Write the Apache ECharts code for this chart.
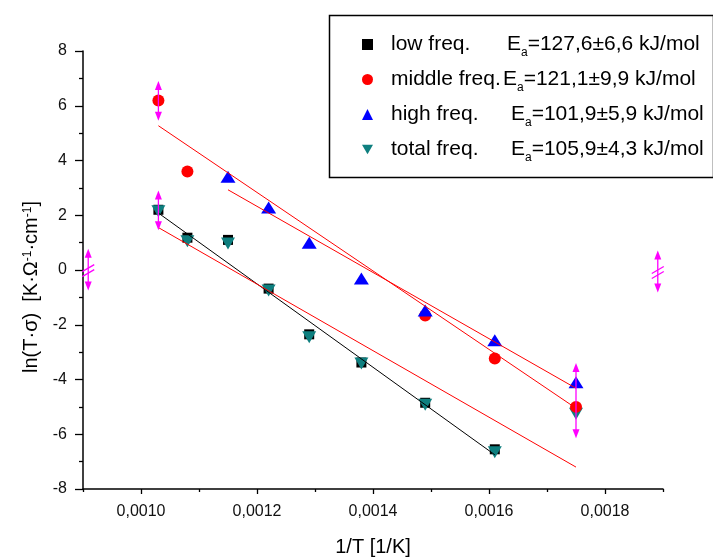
<!DOCTYPE html>
<html>
<head>
    <meta charset="utf-8">
    <title>ln(T·σ) vs 1/T</title>
    <script src="https://cdn.jsdelivr.net/npm/echarts@6/dist/echarts.min.js"></script>
    <style>
        body { margin: 0; background: #fff; }
    </style>
</head>
<body>
    <div id="chart" style="width:713px; height:558px"></div>

    <script>
        // 1/T values of the measurements
        const invT = [0.00103, 0.00108, 0.00115, 0.00122, 0.00129, 0.00138, 0.00149, 0.00161, 0.00175];
        const lowFreq    = [2.2, 1.18, 1.1, -0.68, -2.35, -3.38, -4.85, -6.55, null];
        const middleFreq = [6.19, 3.6, null, null, null, null, -1.66, -3.23, -5.0];
        const highFreq   = [null, null, 3.41, 2.28, 1.0, -0.31, -1.48, -2.57, -4.1];
        const totalFreq  = [2.15, 1.05, 0.97, -0.75, -2.46, -3.42, -4.92, -6.66, -5.25];

        // fitted lines (end points)
        const fitLow    = [[0.00103, 2.08], [0.00161, -6.75]];
        const fitMiddle = [[0.00103, 5.27], [0.00175, -5.05]];
        const fitHigh   = [[0.00115, 2.93], [0.00175, -4.32]];
        const fitTotal  = [[0.00103, 1.55], [0.00175, -7.2]];

        // magenta markers: x, y low, y high, break mark
        const markers = [
            [0.00103, 5.45, 6.9, 0],
            [0.00103, 1.45, 2.9, 0],
            [0.00175, -6.15, -3.4, 0],
            [0.000909, -0.75, 0.78, 1],
            [0.001891, -0.82, 0.71, 1]
        ];

        const seriesNames = ['low freq.', 'middle freq.', 'high freq.', 'total freq.'];
        const activation = ['127,6±6,6', '121,1±9,9', '101,9±5,9', '105,9±4,3'];

        const xMajor = [0.0010, 0.0012, 0.0014, 0.0016, 0.0018];
        const xMinor = [0.0009, 0.0011, 0.0013, 0.0015, 0.0017, 0.0019];

        const font = '"Liberation Sans", Arial, sans-serif';
        const downTriangle = 'path://M0,0L14,0L7,12Z';
        let chart = echarts.init(document.getElementById('chart'));

        function pairs(ys) {
            return invT.map((x, i) => [x, ys[i]]).filter(p => p[1] !== null);
        }

        function fitSeries(data, color) {
            return {
                type: 'line', data: data, symbol: 'none', z: 6, silent: true,
                lineStyle: { color: color, width: 1 }
            };
        }

        function markerItem(params, api) {
            let top = api.coord([api.value(0), api.value(2)]);
            let bot = api.coord([api.value(0), api.value(1)]);
            let x = top[0];
            let st = { stroke: '#ff00ff', lineWidth: 1.3 };
            let kids = [
                { type: 'line', shape: { x1: x, y1: top[1] + 4, x2: x, y2: bot[1] - 4 }, style: st },
                { type: 'polygon', shape: { points: [[x, top[1]], [x - 3.5, top[1] + 9], [x + 3.5, top[1] + 9]] }, style: { fill: '#ff00ff' } },
                { type: 'polygon', shape: { points: [[x, bot[1]], [x - 3.5, bot[1] - 9], [x + 3.5, bot[1] - 9]] }, style: { fill: '#ff00ff' } }
            ];
            if (api.value(3)) {
                let m = (top[1] + bot[1]) / 2;
                kids.push({ type: 'line', shape: { x1: x - 6, y1: m + 2, x2: x + 6, y2: m - 5 }, style: st });
                kids.push({ type: 'line', shape: { x1: x - 6, y1: m + 7, x2: x + 6, y2: m }, style: st });
            }
            return { type: 'group', children: kids };
        }

        let base = { fontSize: 21, fontFamily: font, color: '#000', lineHeight: 28 };
        let legendRich = {
            p: { width: 13 },
            n0: Object.assign({ width: 116 }, base),
            n1: Object.assign({ width: 112 }, base),
            n2: Object.assign({ width: 120 }, base),
            n3: Object.assign({ width: 120 }, base),
            e: base,
            s: { fontSize: 12, fontFamily: font, color: '#000', verticalAlign: 'bottom', lineHeight: 10 },
            v: base
        };

        let option = {
            animation: false,
            grid: { left: 83, right: 50, top: 51, bottom: 69, outerBoundsMode: 'none', containLabel: false },
            xAxis: [
                {
                    type: 'value', min: 0.0009, max: 0.0019,
                    name: '1/T [1/K]', nameLocation: 'middle', nameGap: 48,
                    nameTextStyle: { fontSize: 20, fontFamily: font, color: '#000' },
                    axisLine: { onZero: false, lineStyle: { color: '#000', width: 1.5 } },
                    axisTick: { length: 5, customValues: xMajor, lineStyle: { color: '#000', width: 1.3 } },
                    axisLabel: {
                        customValues: xMajor, margin: 15, fontSize: 16, fontFamily: font, color: '#111',
                        formatter: v => v.toFixed(4).replace('.', ',')
                    },
                    splitLine: { show: false }
                },
                {
                    type: 'value', min: 0.0009, max: 0.0019, position: 'bottom',
                    axisLine: { show: false, onZero: false },
                    axisTick: { length: 3, customValues: xMinor, lineStyle: { color: '#000', width: 1.3 } },
                    axisLabel: { show: false },
                    splitLine: { show: false }
                }
            ],
            yAxis: {
                type: 'value', min: -8, max: 8, interval: 2,
                name: '{t|ln(T·σ)  [K·Ω}{u|-1}{t|·cm}{u|-1}{t|]}',
                nameLocation: 'middle', nameGap: 41, nameRotate: 90,
                nameTextStyle: {
                    padding: [0, 34, 0, 0],
                    rich: {
                        t: { fontSize: 20, fontFamily: font, color: '#000' },
                        u: { fontSize: 12, fontFamily: font, color: '#000', verticalAlign: 'top', lineHeight: 12 }
                    }
                },
                axisLine: { show: true, onZero: false, lineStyle: { color: '#000', width: 1.5 } },
                axisTick: { length: 8, lineStyle: { color: '#000', width: 1.3 } },
                minorTick: { show: true, splitNumber: 2, length: 4, lineStyle: { color: '#000', width: 1.3 } },
                axisLabel: { margin: 16, fontSize: 16, fontFamily: font, color: '#111' },
                splitLine: { show: false }
            },
            legend: {
                orient: 'vertical', left: 357, top: 29,
                itemWidth: 11, itemHeight: 11, itemGap: 10.5,
                data: seriesNames,
                formatter: function(name) {
                    let i = seriesNames.indexOf(name);
                    return '{p| }{n' + i + '|' + name + '}{e|E}{s|a}{v|=' + activation[i] + ' kJ/mol}';
                },
                textStyle: { rich: legendRich }
            },
            graphic: [
                {
                    type: 'rect', left: 327, top: 13, z: 100, silent: true,
                    shape: { width: 384, height: 162 },
                    style: { fill: null, stroke: '#000', lineWidth: 1.5 }
                }
            ],
            series: [
                { name: 'low freq.', type: 'scatter', data: pairs(lowFreq), symbol: 'rect', symbolSize: 10, itemStyle: { color: '#000000', opacity: 1 }, z: 2 },
                { name: 'middle freq.', type: 'scatter', data: pairs(middleFreq), symbol: 'circle', symbolSize: 12, itemStyle: { color: '#ff0000', opacity: 1 }, z: 4 },
                { name: 'high freq.', type: 'scatter', data: pairs(highFreq), symbol: 'triangle', symbolSize: [15, 12], itemStyle: { color: '#0000ff', opacity: 1 }, z: 5 },
                { name: 'total freq.', type: 'scatter', data: pairs(totalFreq), symbol: downTriangle, symbolSize: [14, 12], itemStyle: { color: '#0e7f7f', opacity: 1 }, z: 3 },
                fitSeries(fitLow, '#000000'),
                fitSeries(fitMiddle, '#ff0000'),
                fitSeries(fitHigh, '#ff0000'),
                fitSeries(fitTotal, '#ff0000'),
                {
                    type: 'custom', data: markers, renderItem: markerItem, z: 7, silent: true, clip: false,
                    encode: { x: 0, y: [1, 2] }
                }
            ]
        };

        chart.setOption(option);
    </script>
</body>
</html>
